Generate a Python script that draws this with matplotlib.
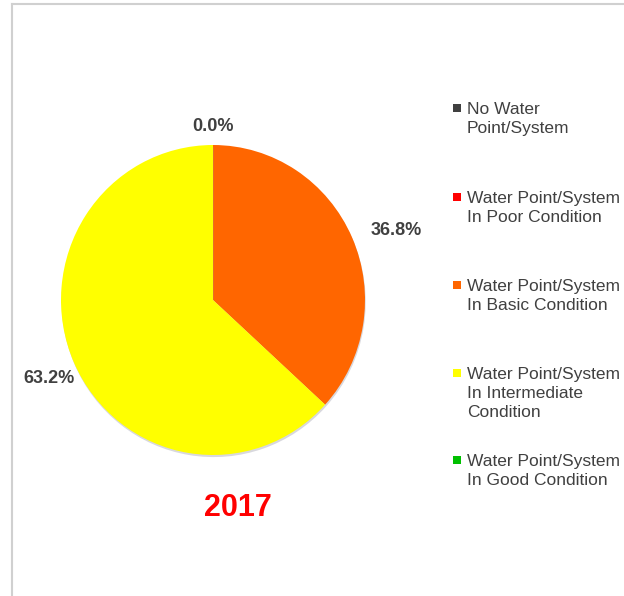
import numpy as np
import matplotlib.pyplot as plt
import matplotlib.patheffects as pe
from matplotlib.patches import Rectangle
from matplotlib.lines import Line2D

plt.rcParams['font.family'] = ['Liberation Sans', 'DejaVu Sans']

categories = ["No Water\nPoint/System",
              "Water Point/System\nIn Poor Condition",
              "Water Point/System\nIn Basic Condition",
              "Water Point/System\nIn Intermediate\nCondition",
              "Water Point/System\nIn Good Condition"]
values = [0.0, 0.0, 36.8, 63.2, 0.0]
colors = ["#404040", "#ff0000", "#ff6600", "#ffff00", "#00c000"]
year = "2017"

# label distance (x, y in radii) for each slice, to match the layout
label_rx = [1.0, 1.0, 1.32, 1.18, 1.0]
label_ry = [1.12, 1.12, 1.12, 1.25, 1.12]

fig = plt.figure(figsize=(6.24, 5.96), dpi=100)
W, H = 624, 596

# light frame along top and left
fig.add_artist(Line2D([12 / W, 1], [1 - 4 / H, 1 - 4 / H], color="#d0d0d0", lw=1.5))
fig.add_artist(Line2D([12 / W, 12 / W], [0, 1 - 4 / H], color="#d0d0d0", lw=1.5))

# pie box: x 61..365, y 145..455 px
ax = fig.add_axes([61 / W, 1 - 455 / H, 304 / W, 310 / H])
wedges, _ = ax.pie(values, colors=colors, startangle=90, counterclock=False,
                   radius=1, wedgeprops=dict(linewidth=0))
for w in wedges:
    w.set_path_effects([pe.SimplePatchShadow(offset=(0.5, -1.5), shadow_rgbFace="#9090a0", alpha=0.35),
                        pe.Normal()])
ax.set_xlim(-1, 1)
ax.set_ylim(-1, 1)
ax.set_aspect('auto')
ax.axis('off')

shown_zero = False
for w, v, rx, ry in zip(wedges, values, label_rx, label_ry):
    if v == 0:
        if shown_zero:
            continue
        shown_zero = True
    mid = np.deg2rad((w.theta1 + w.theta2) / 2)
    ax.text(rx * np.cos(mid), ry * np.sin(mid), f"{v:.1f}%", ha="center", va="center",
            fontsize=13, fontweight="bold", color="#404040")

fig.text(237.5 / W, 1 - 508 / H, year, ha="center", va="center", fontsize=22,
         fontweight="bold", color="#ff0000")

# legend drawn by hand so the marker lines up with the first text line
first_line_y = [108, 197, 285, 373, 460]
for cat, col, yp in zip(categories, colors, first_line_y):
    fig.add_artist(Rectangle((453 / W, 1 - (yp + 4) / H), 8 / W, 8 / H,
                             facecolor=col, edgecolor="none"))
    fig.text(467 / W, 1 - (yp - 6) / H, cat, ha="left", va="top",
             fontsize=12.5, color="#404040", linespacing=1.35)

fig.savefig("out.png", dpi=100)
